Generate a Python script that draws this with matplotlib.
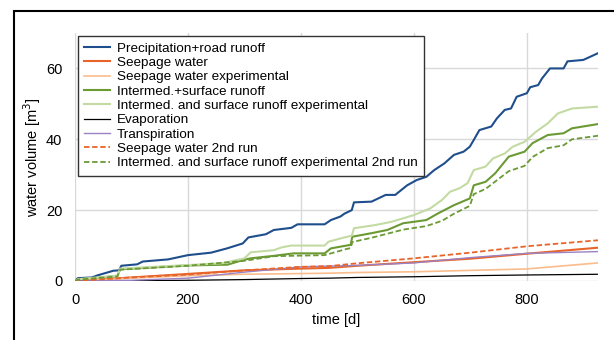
import matplotlib.pyplot as plt
from matplotlib.patches import Rectangle

plt.rcParams['font.family'] = ['Liberation Sans', 'DejaVu Sans']

# values (time in days, volume in m3)
t_precip = [0, 5, 30, 40, 68, 78, 82, 110, 120, 165, 200, 241, 269, 297, 307, 338, 352, 383, 394,
            442, 453, 470, 477, 490, 494, 525, 550, 567, 588, 605, 622, 636, 654, 671, 688, 699,
            706, 716, 737, 747, 761, 772, 782, 800, 806, 820, 827, 841, 865, 872, 900, 926]
precip = [0, 0.8, 1.0, 1.6, 2.9, 3.0, 4.3, 4.7, 5.5, 6.1, 7.3, 8.0, 9.2, 10.6, 12.3, 13.2, 14.4, 15.0, 16.0,
          16.0, 17.2, 18.2, 19.0, 20.0, 22.2, 22.4, 24.3, 24.3, 27.0, 28.5, 29.4, 31.3, 33.2, 35.6, 36.5, 37.9,
          39.8, 42.6, 43.6, 45.9, 48.3, 48.7, 52.0, 53.0, 54.7, 55.3, 57.2, 60.0, 60.0, 62.0, 62.4, 64.3]

t_inter_exp = [0, 5, 75, 80, 200, 260, 300, 311, 352, 366, 383, 442, 449, 477, 490, 494, 532, 560, 581,
               600, 629, 650, 664, 681, 695, 706, 727, 740, 761, 775, 796, 816, 837, 855, 880, 926]
inter_exp = [0, 0.5, 1.5, 3.5, 4.5, 5.0, 6.4, 8.1, 8.7, 9.5, 10.0, 10.0, 11.1, 12.3, 12.8, 14.9, 15.8, 16.7, 17.7,
             18.6, 20.5, 22.9, 25.2, 26.2, 27.6, 31.3, 32.3, 34.6, 36.0, 37.9, 39.3, 42.1, 44.5, 47.3, 48.7, 49.2]

t_inter = [0, 5, 75, 80, 200, 270, 297, 311, 352, 387, 442, 453, 477, 488, 491, 525, 553, 581, 622,
           643, 671, 699, 706, 727, 744, 768, 796, 810, 837, 865, 880, 926]
inter = [0, 0.5, 1.4, 3.3, 4.4, 4.6, 5.9, 6.4, 7.1, 7.8, 7.8, 9.2, 9.9, 10.2, 12.5, 13.5, 14.4, 16.3, 17.2,
         19.1, 21.4, 23.3, 27.0, 28.0, 30.4, 35.1, 36.5, 38.9, 41.2, 41.7, 43.1, 44.3]

t_inter_2 = [0, 5, 75, 80, 200, 300, 352, 442, 480, 488, 491, 525, 581, 622, 650, 671, 699, 706,
             727, 750, 768, 796, 810, 837, 865, 880, 926]
inter_2 = [0, 0.4, 1.3, 3.2, 4.3, 5.7, 7.0, 7.3, 9.0, 9.3, 11.0, 12.2, 14.5, 15.5, 17.0, 19.0, 21.2, 24.5,
           26.0, 28.8, 31.0, 32.5, 35.0, 37.5, 38.3, 40.0, 41.0]

t_low = [0, 100, 200, 300, 400, 450, 500, 600, 700, 800, 926]
seepage = [0, 1.0, 2.0, 3.0, 3.5, 3.7, 4.3, 5.3, 6.3, 7.7, 9.4]
seepage_exp = [0, 0.8, 1.5, 1.9, 2.1, 2.2, 2.4, 2.6, 3.0, 3.4, 5.1]
seepage_2 = [0, 1.0, 1.8, 3.0, 4.0, 4.2, 5.0, 6.4, 8.0, 9.8, 11.5]
evaporation = [0, 0.1, 0.2, 0.4, 0.7, 0.8, 1.0, 1.2, 1.5, 1.7, 1.9]
transpiration = [0, 0.2, 0.8, 2.5, 4.0, 4.2, 4.4, 5.1, 6.6, 7.8, 8.3]

fig = plt.figure(figsize=(6.14, 3.4), dpi=100)
ax = fig.add_axes([75 / 614, 59 / 340, 523 / 614, 248 / 340])

ax.plot(t_precip, precip, color='#1f4e8c', lw=1.5, label='Precipitation+road runoff')
ax.plot(t_low, seepage, color='#e8642a', lw=1.5, label='Seepage water')
ax.plot(t_low, seepage_exp, color='#f9bc8c', lw=1.2, label='Seepage water experimental')
ax.plot(t_inter, inter, color='#6b9a35', lw=1.5, label='Intermed.+surface runoff')
ax.plot(t_inter_exp, inter_exp, color='#c3dba3', lw=1.5, label='Intermed. and surface runoff experimental')
ax.plot(t_low, evaporation, color='black', lw=0.9, label='Evaporation')
ax.plot(t_low, transpiration, color='#9b82c4', lw=1.0, label='Transpiration')
ax.plot(t_low, seepage_2, color='#e8642a', lw=1.3, ls=(0, (3, 1.5)), label='Seepage water 2nd run')
ax.plot(t_inter_2, inter_2, color='#6b9a35', lw=1.3, ls=(0, (3, 1.5)),
        label='Intermed. and surface runoff experimental 2nd run')

ax.set_xlim(0, 926)
ax.set_ylim(0, 70)
ax.set_xticks([0, 200, 400, 600, 800])
ax.set_yticks([0, 20, 40, 60])
ax.grid(True, color='#d9d9d9', lw=1)
ax.set_axisbelow(True)
for s in ax.spines.values():
    s.set_visible(False)
ax.tick_params(length=0, labelsize=10.5)
ax.tick_params(axis='y', pad=9)
ax.tick_params(axis='x', pad=9)
ax.set_xlabel('time [d]', fontsize=10.5, labelpad=4)
ax.set_ylabel('water volume [m$^3$]', fontsize=10.5, labelpad=2)

leg = ax.legend(loc='upper left', fontsize=9.7, handlelength=1.9, labelspacing=0.14,
                borderaxespad=0.2, fancybox=False, framealpha=1, edgecolor='#333333',
                borderpad=0.5, handletextpad=0.5)
leg.get_frame().set_linewidth(1.0)

# outer frame of the original figure (partly cut off)
fig.add_artist(Rectangle((14 / 614, -0.1), 1.2, 1.1 - 11 / 340, transform=fig.transFigure,
                         fill=False, edgecolor='black', lw=1.5))

fig.savefig('out.png', dpi=100)
